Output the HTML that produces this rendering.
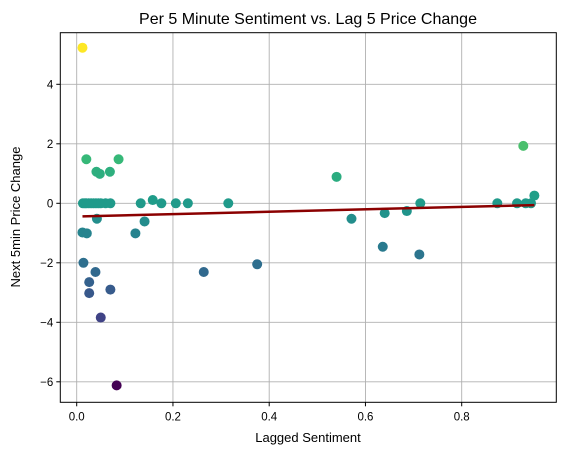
<!DOCTYPE html>
<html><head><meta charset="utf-8">
<style>
body{margin:0;background:#fff;}
svg{font-family:"Liberation Sans","DejaVu Sans",sans-serif;}
</style></head>
<body>
<svg id="chart" width="565" height="455" viewBox="0 0 565 455">
<text x="308" y="24" text-anchor="middle" font-size="16">Per 5 Minute Sentiment vs. Lag 5 Price Change</text>
<g id="grid"></g>
<g id="marks"></g>
<rect x="60.3" y="32.7" width="496" height="369.6" fill="none" stroke="#000" stroke-width="1"/>
<g id="axes"></g>
<text x="308" y="442" text-anchor="middle" font-size="13">Lagged Sentiment</text>
<text x="20" y="217" text-anchor="middle" font-size="13" transform="rotate(-90 20 217)">Next 5min Price Change</text>
</svg>
<script>
const sentiment = [0.012,0.020,0.087,0.041,0.048,0.069,
 0.013,0.017,0.020,0.025,0.030,0.035,0.040,0.045,0.050,0.060,0.070,
 0.133,0.158,0.176,0.206,0.231,0.315,0.042,0.141,0.012,0.021,0.122,
 0.014,0.039,0.264,0.026,0.026,0.070,0.050,0.083,0.375,
 0.540,0.571,0.640,0.686,0.714,0.636,0.712,0.874,0.915,0.928,0.933,0.944,0.951];
const priceChange = [5.23,1.48,1.48,1.06,0.99,1.06,
 0,0,0,0,0,0,0,0,0,0,0,
 0,0.11,0,0,0,0,-0.52,-0.61,-0.98,-1.01,-1.01,
 -2.0,-2.31,-2.31,-2.65,-3.02,-2.9,-3.84,-6.12,-2.05,
 0.89,-0.52,-0.33,-0.26,0,-1.46,-1.72,0,0,1.93,0,0,0.26];
const fitX = [0.012,0.951];
const fitY = [-0.44,-0.06];
const xTicks = [0,0.2,0.4,0.6,0.8];
const xTickLabels = ["0.0","0.2","0.4","0.6","0.8"];
const yTicks = [-6,-4,-2,0,2,4];
const yTickLabels = ["−6","−4","−2","0","2","4"];

const L=60.3,R=556.3,T=32.7,B=402.3;
function sx(v){return 76.7+v*481.25;}
function sy(v){return 203.3-v*29.75;}
const NS="http://www.w3.org/2000/svg";
function mk(tag,attrs,parent){const e=document.createElementNS(NS,tag);for(const k in attrs)e.setAttribute(k,attrs[k]);parent.appendChild(e);return e;}
const vir=[[68,1,84],[72,40,120],[62,74,137],[49,104,142],[38,130,142],[31,158,137],[53,183,121],[109,205,89],[180,222,44],[253,231,37]];
function viridis(t){t=Math.max(0,Math.min(1,t))*(vir.length-1);const i=Math.min(Math.floor(t),vir.length-2),f=t-i;
 const c=vir[i].map((a,k)=>Math.round(a+(vir[i+1][k]-a)*f));return `rgb(${c[0]},${c[1]},${c[2]})`;}
const grid=document.getElementById('grid'),axes=document.getElementById('axes'),marks=document.getElementById('marks');
xTicks.forEach((v,i)=>{
 const g=mk('line',{x1:sx(v),x2:sx(v),y1:T,y2:B,stroke:'#b0b0b0','stroke-width':0.9},grid);
 
 
 mk('line',{x1:sx(v),x2:sx(v),y1:B,y2:B+4,stroke:'#000'},axes);
 const t=mk('text',{x:sx(v),y:B+18,'text-anchor':'middle','font-size':11.5},axes);
 t.textContent=xTickLabels[i];
 
 
});
yTicks.forEach((v,i)=>{
 const g=mk('line',{x1:L,x2:R,y1:sy(v),y2:sy(v),stroke:'#b0b0b0','stroke-width':0.9},grid);
 
 
 mk('line',{x1:L-4,x2:L,y1:sy(v),y2:sy(v),stroke:'#000'},axes);
 const t=mk('text',{x:L-7,y:sy(v)+4,'text-anchor':'end','font-size':11.5},axes);
 t.textContent=yTickLabels[i];
 
 
});
const mn=Math.min(...priceChange),mx=Math.max(...priceChange);
sentiment.forEach((x,i)=>{
 const c=mk('circle',{cx:sx(x),cy:sy(priceChange[i]),r:5,fill:viridis((priceChange[i]-mn)/(mx-mn))},marks);
 
 
});
const ln=mk('line',{x1:sx(fitX[0]),y1:sy(fitY[0]),x2:sx(fitX[1]),y2:sy(fitY[1]),stroke:'#8b0000','stroke-width':2.5},marks);


</script>
</body></html>
